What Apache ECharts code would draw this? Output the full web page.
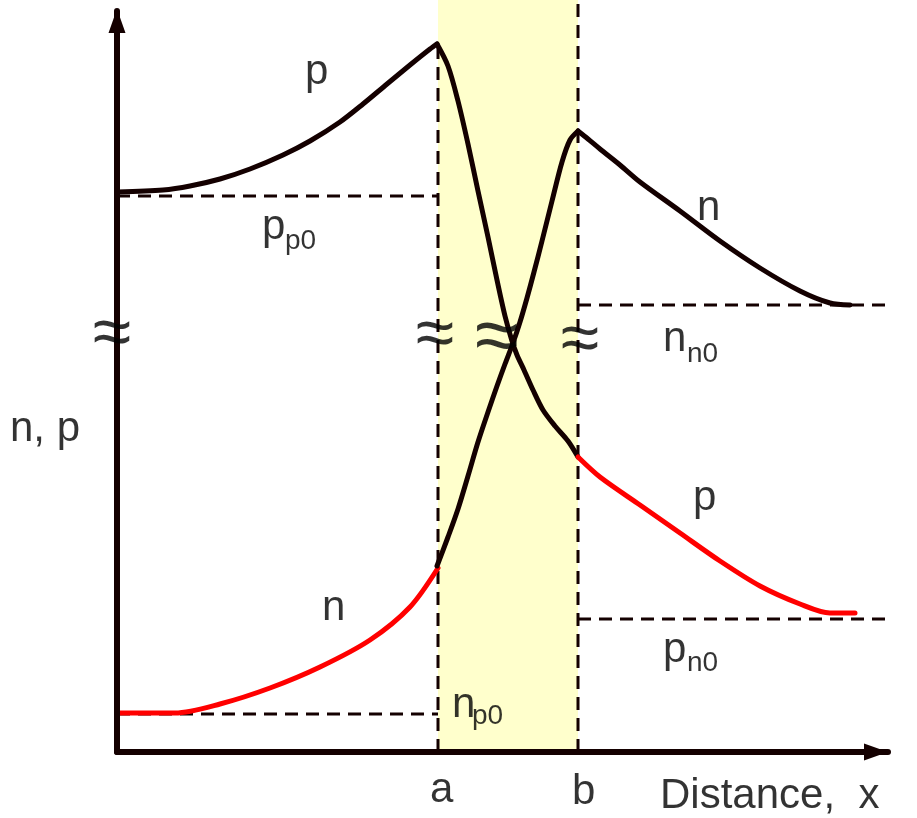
<!DOCTYPE html>
<html>
<head>
<meta charset="utf-8">
<script src="https://cdn.jsdelivr.net/npm/echarts@6/dist/echarts.min.js"></script>
<style>
  html, body { margin: 0; padding: 0; background: #ffffff; }
  #chart { width: 917px; height: 818px; }
</style>
</head>
<body>
<div id="chart"></div>
<script>
// Carrier concentrations n and p across a junction: neutral p-side (x < a),
// depletion region (a..b, shaded) and neutral n-side (x > b).

// Depletion region edges and the axis extents (distance units)
const edgeA = 32.1;
const edgeB = 46.1;
const xMax = 77.1;
const yMax = 74.1;
const shadeTop = 75.2;

// Majority holes on the p-side, rising to the edge a
const pLeft = [[0.1, 56.0], [4.6, 56.2], [7.3, 56.6], [10.3, 57.3], [13.3, 58.3], [16.6, 59.7],
  [19.3, 61.1], [22.3, 63.0], [24.6, 64.8], [27.0, 66.8], [29.3, 68.7], [31.3, 70.3], [32.0, 70.8]];
// Holes falling through the depletion region
const pMiddle = [[32.0, 70.8], [33.1, 68.6], [34.1, 65.1], [35.1, 60.8], [36.1, 56.1], [37.1, 51.5],
  [38.0, 47.2], [38.8, 43.6], [39.5, 41.1], [40.0, 39.7], [40.7, 38.2], [41.6, 36.2], [42.6, 34.2],
  [43.8, 32.6], [45.1, 31.1], [46.1, 29.5]];
// Excess minority holes decaying on the n-side
const pRight = [[46.1, 29.5], [48.3, 27.5], [52.3, 24.7], [56.3, 21.9], [60.3, 19.1], [64.3, 16.6],
  [68.3, 14.8], [71.3, 13.9], [73.8, 13.9]];

// Excess minority electrons on the p-side
const nLeft = [[0.1, 3.9], [5.8, 3.9], [10.3, 4.8], [15.3, 6.4], [20.3, 8.5], [25.3, 11.2],
  [29.3, 14.5], [32.1, 18.4]];
// Electrons rising through the depletion region
const nMiddle = [[32.0, 18.6], [33.1, 21.5], [34.1, 24.3], [35.1, 27.6], [36.1, 31.0], [37.1, 34.0],
  [38.0, 36.6], [38.8, 38.8], [39.6, 40.9], [40.3, 43.0], [41.0, 45.4], [41.7, 48.0], [42.5, 51.1],
  [43.5, 55.1], [44.5, 59.0], [45.3, 61.2], [46.1, 62.1]];
// Majority electrons on the n-side, falling to equilibrium
const nRight = [[46.1, 62.1], [47.1, 61.3], [48.3, 60.3], [50.3, 58.7], [52.3, 57.0], [56.3, 54.1],
  [60.3, 51.1], [64.3, 48.4], [68.3, 46.1], [71.3, 44.9], [73.3, 44.7]];

// Equilibrium levels
const ppo = 55.6;
const npo = 3.8;
const nno = 44.7;
const pno = 13.3;

// Text: [text, x, y]
const plainLabels = [
  ['p', 18.8, 68.0], ['n', 58.0, 54.4], ['p', 57.6, 25.4], ['n', 20.5, 14.4],
  ['n, p', -10.7, 32.3], ['a', 31.3, -3.8], ['b', 45.5, -4.0], ['Distance,  x', 54.3, -4.4]
];
const levelSymbols = [['p', 14.5, 52.5], ['n', 54.6, 41.3], ['p', 54.6, 10.2], ['n', 33.5, 4.7]];
const levelSubscripts = [['p0', 16.8, 51.1], ['n0', 57.0, 39.8], ['n0', 57.0, 8.9], ['p0', 35.5, 3.6]];
// Axis-break marks
const breakMarks = [[-0.5, 41.6], [31.8, 41.5], [46.3, 41.0]];
const centreBreak = [[38.0, 41.2]];

const INK = '#140000';
const RED = '#ff0000';
const FONT = 'Liberation Sans';

function curve(data, color) {
  return {
    type: 'line', data: data, smooth: 0.3, symbol: 'none', clip: false, z: 3,
    lineStyle: { color: color, width: 5, cap: 'round', join: 'round' }
  };
}
function dashed(data) {
  return {
    type: 'line', data: data, symbol: 'none', clip: false, z: 2,
    lineStyle: { color: INK, width: 3, type: [13, 8] }
  };
}
function textLayer(items, size, weight, align) {
  return {
    type: 'scatter', symbolSize: 0, clip: false, z: 5, silent: true,
    data: items.map(d => ({ value: [d[1], d[2]], name: d[0] })),
    label: {
      show: true, position: [0, 0], formatter: '{b}',
      fontFamily: FONT, fontSize: size, fontWeight: weight, color: '#000000',
      align: align, verticalAlign: 'middle'
    }
  };
}

const chart = echarts.init(document.getElementById('chart'));
chart.setOption({
  animation: false,
  backgroundColor: '#ffffff',
  grid: { left: 117, top: 11, width: 771, height: 741 },
  xAxis: {
    type: 'value', min: 0, max: xMax, z: 4,
    axisLine: { show: true, symbol: ['none', 'triangle'], symbolSize: [17, 24], symbolOffset: [0, -12],
      lineStyle: { color: INK, width: 6 } },
    axisTick: { show: false }, axisLabel: { show: false }, splitLine: { show: false }
  },
  yAxis: {
    type: 'value', min: 0, max: yMax, z: 4,
    axisLine: { show: true, symbol: ['none', 'triangle'], symbolSize: [17, 24], symbolOffset: [0, -10],
      lineStyle: { color: INK, width: 6 } },
    axisTick: { show: false }, axisLabel: { show: false }, splitLine: { show: false }
  },
  series: [
    {
      type: 'custom', z: 1, silent: true,
      data: [[edgeA, edgeB, 0, shadeTop]],
      renderItem: function (params, api) {
        const tl = api.coord([api.value(0), api.value(3)]);
        const br = api.coord([api.value(1), api.value(2)]);
        return { type: 'rect', shape: { x: tl[0], y: tl[1], width: br[0] - tl[0], height: br[1] - tl[1] },
          style: { fill: '#ffffcc' } };
      }
    },
    dashed([[edgeA, 0], [edgeA, 70.8]]),
    dashed([[edgeB, 0], [edgeB, shadeTop]]),
    dashed([[0, ppo], [edgeA, ppo]]),
    dashed([[0, npo], [edgeA, npo]]),
    dashed([[edgeB, nno], [xMax, nno]]),
    dashed([[edgeB, pno], [xMax, pno]]),
    curve(pLeft, INK),
    curve(pMiddle, INK),
    curve(pRight, RED),
    curve(nLeft, RED),
    curve(nMiddle, INK),
    curve(nRight, INK),
    textLayer(plainLabels, 42, 'normal', 'left'),
    textLayer(levelSymbols, 42, 'normal', 'left'),
    textLayer(levelSubscripts, 28, 'normal', 'left'),
    textLayer(breakMarks.map(d => ['≈', d[0], d[1]]), 70, 'normal', 'center'),
    textLayer(centreBreak.map(d => ['≈', d[0], d[1]]), 80, 'normal', 'center')
  ]
});
</script>
</body>
</html>
